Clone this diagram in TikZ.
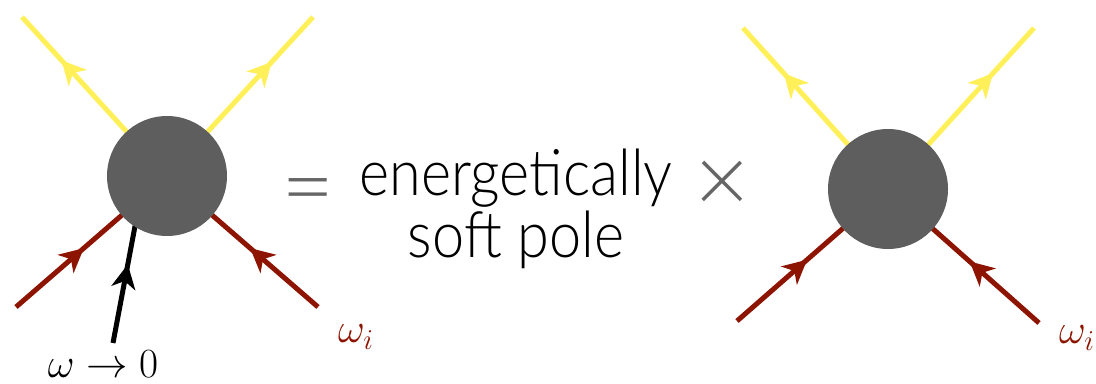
\documentclass[tikz,border=0pt]{standalone}
\usepackage{fontspec}
\setmainfont{Lato Light}
\newfontfamily\polefont[FakeStretch=0.9]{Lato Light}
\usetikzlibrary{arrows.meta,decorations.markings,backgrounds}
\definecolor{legyellow}{HTML}{FFF05A}
\definecolor{legred}{HTML}{8C1400}
\definecolor{blobgray}{HTML}{5E5E5E}
\definecolor{opgray}{HTML}{666666}

\begin{document}
\begin{tikzpicture}[x=0.5pt,y=-0.5pt,
  blob/.style={circle,fill=blobgray,minimum size=60pt,inner sep=0pt},
  leg/.style={line width=2.5pt,postaction={decorate},
    decoration={markings,mark=at position #1 with {\arrow{Stealth[length=12pt,width=12pt,inset=3.5pt]}}}},
  mathlabel/.style={font=\fontsize{20}{24}\selectfont,inner sep=0pt},
  poletext/.style={anchor=base,inner sep=0pt,align=center,font=\polefont\fontsize{32}{31}\selectfont}]
\useasboundingbox (0,0) rectangle (1096,384);
% blobs
\node[blob] (blobL) at (167,176) {};
\node[blob] (blobR) at (888,189) {};
% external legs, left blob
\coordinate (outL1) at (22,17);
\coordinate (outL2) at (313,17);
\coordinate (inL1) at (16,307);
\coordinate (inL2) at (318,307);
\coordinate (softS) at (113,343);
\coordinate (softE) at (139,205);
% external legs, right blob
\coordinate (outR1) at (743,28);
\coordinate (outR2) at (1034,28);
\coordinate (inR1) at (737,321);
\coordinate (inR2) at (1039,323);
\begin{scope}[on background layer]
\draw[leg=0.73,legyellow] (blobL.center) -- (outL1);
\draw[leg=0.72,legyellow] (blobL.center) -- (outL2);
\draw[leg=0.45,legred] (inL1) -- (blobL.center);
\draw[leg=0.45,legred] (inL2) -- (blobL.center);
\draw[leg=0.57,black] (softS) -- (softE);
\draw[leg=0.72,legyellow] (blobR.center) -- (outR1);
\draw[leg=0.72,legyellow] (blobR.center) -- (outR2);
\draw[leg=0.465,legred] (inR1) -- (blobR.center);
\draw[leg=0.46,legred] (inR2) -- (blobR.center);
\end{scope}
% labels
\node[mathlabel,anchor=base] (softlbl) at (103,377) {$\omega\to0$};
\node[mathlabel,text=legred] (wL) at (356,337) {$\omega_i$};
\node[mathlabel,text=legred] (wR) at (1077,338) {$\omega_i$};
\node[text=opgray,font=\fontsize{46}{50}\selectfont] (eq) at (308,199) {=};
\node[poletext] (pole) at (516,258) {energetically\\soft pole};
\node[text=opgray,font=\fontsize{48}{50}\selectfont] (times) at (722,187) {×};
\end{tikzpicture}
\end{document}
